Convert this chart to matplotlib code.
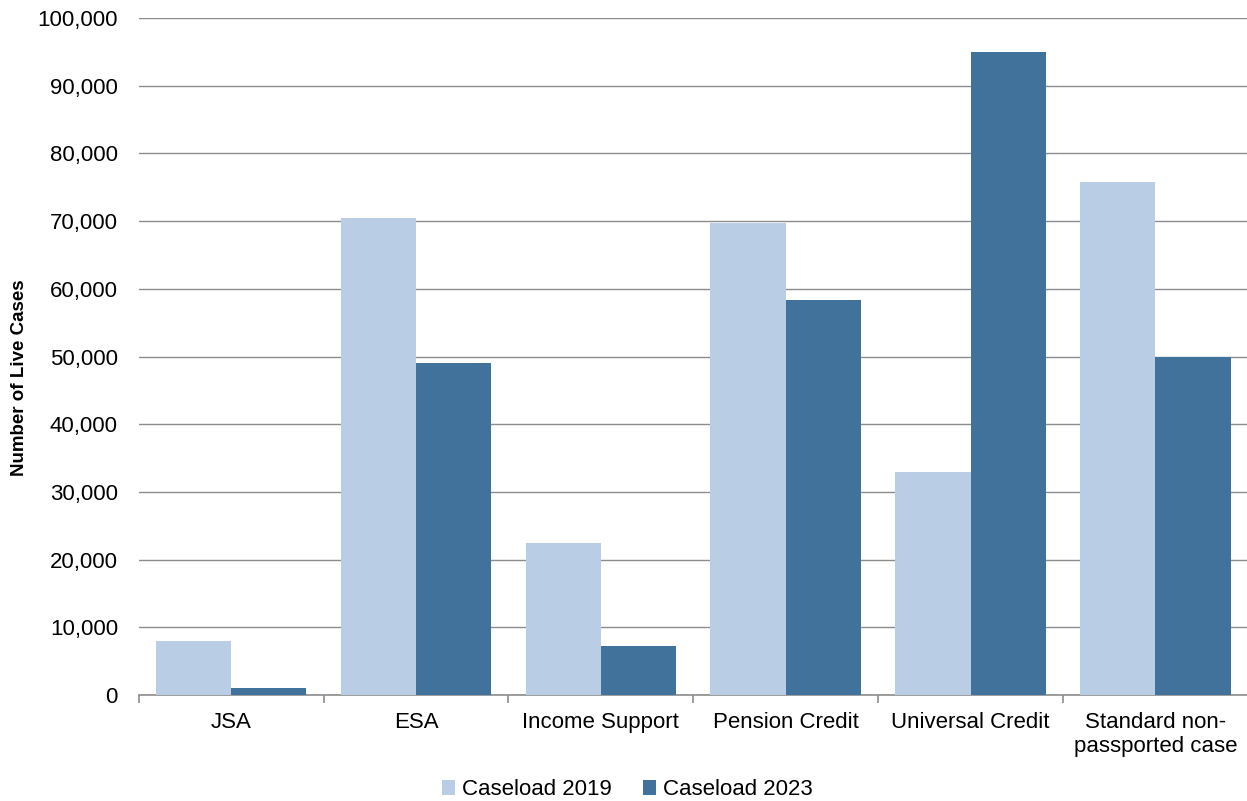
import matplotlib.pyplot as plt
import numpy as np
from matplotlib.ticker import FuncFormatter, MultipleLocator

plt.rcParams['font.family'] = ['Liberation Sans', 'DejaVu Sans']

categories = ['JSA', 'ESA', 'Income Support', 'Pension Credit',
              'Universal Credit', 'Standard non-\npassported case']
caseload_2019 = [8000, 70500, 22400, 69700, 32900, 75800]
caseload_2023 = [1000, 49100, 7300, 58300, 95000, 50000]

light = '#B9CDE5'
dark = '#41729C'

fig = plt.figure(figsize=(12.47, 8.01), dpi=100)
ax = fig.add_axes([0.1113, 0.1323, 0.8893, 0.8452])

x = np.arange(len(categories))
w = 0.407
ax.bar(x - w / 2, caseload_2019, width=w, color=light, label='Caseload 2019', zorder=3)
ax.bar(x + w / 2, caseload_2023, width=w, color=dark, label='Caseload 2023', zorder=3)

ax.set_xlim(-0.5, len(categories) - 0.5)
ax.set_ylim(0, 100000)
ax.yaxis.set_major_locator(MultipleLocator(10000))
ax.yaxis.set_major_formatter(FuncFormatter(lambda v, p: f'{int(v):,}'))
ax.grid(axis='y', color='#8C8C8C', linewidth=1.0, zorder=0)

for s in ['top', 'right', 'left']:
    ax.spines[s].set_visible(False)
ax.spines['bottom'].set_color('#8C8C8C')
ax.spines['bottom'].set_linewidth(1.2)

# category labels centred, tick marks at the group boundaries
ax.set_xticks(x)
ax.set_xticklabels(categories, fontsize=16)
ax.tick_params(axis='x', which='major', length=0, pad=12)
ax.set_xticks(np.arange(-0.5, len(categories)), minor=True)
ax.tick_params(axis='x', which='minor', length=6, color='#8C8C8C', width=1.2)
ax.tick_params(axis='y', length=0, labelsize=16, pad=15)

fig.text(20 / 1247, 1 - 378 / 801, 'Number of Live Cases', rotation=90,
         ha='center', va='center', fontsize=13.5, fontweight='bold')

fig.legend(loc='center', bbox_to_anchor=(0.503, 0.014), ncol=2, frameon=False,
           fontsize=16, handlelength=0.6, handleheight=0.6, handletextpad=0.3,
           columnspacing=1.4)

fig.savefig('out.png', dpi=100)
